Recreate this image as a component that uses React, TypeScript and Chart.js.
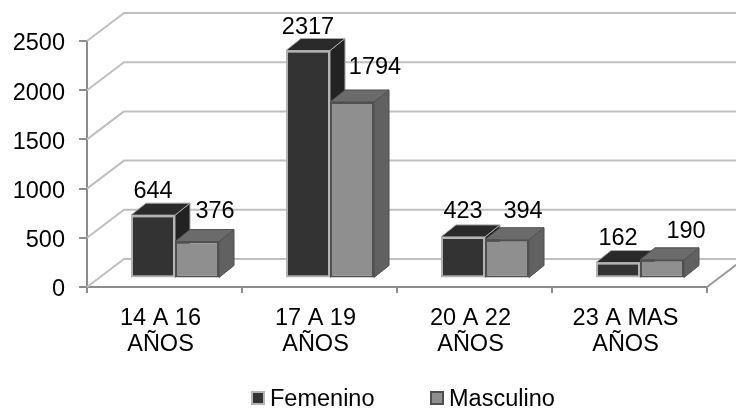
import React, { useEffect, useRef } from "react";
import { Chart, registerables } from "chart.js";

Chart.register(...registerables);

const categories = [["14 A 16", "AÑOS"], ["17 A 19", "AÑOS"], ["20 A 22", "AÑOS"], ["23 A MAS", "AÑOS"]];
const femenino = [644, 2317, 423, 162];
const masculino = [376, 1794, 394, 190];
const yTicks = [0, 500, 1000, 1500, 2000, 2500];

const FONT = '"Liberation Sans", Arial, sans-serif';
const FONT_SIZE = 23.5;

// 3D look, in pixels
const WALL = { dx: 37, dy: 28 };
const BAR_SHIFT = { dx: 10.5, dy: 8.5 };
const BAR_DEPTH = { dx: 15, dy: 12 };

const LOOK = [
  { front: "#333333", top: "#2a2a2a", side: "#222222", edge: "#b4b4b4", faceEdge: "#a8a8a8" },
  { front: "#8f8f8f", top: "#6b6b6b", side: "#616161", edge: "#505050", faceEdge: "#505050" },
];
// data-label placement relative to the top-centre of each front face
const LABEL_OFFSET = [
  [[0, -24], [0, -23], [0, -25], [0, -24]],
  [[18, -30], [23, -34], [16, -28], [24, -28]],
];

function paintDataset(chart: any, index: number) {
  const { ctx } = chart;
  const look = LOOK[index];
  const meta = chart.getDatasetMeta(index);
  ctx.save();
  ctx.translate(BAR_SHIFT.dx, -BAR_SHIFT.dy);
  ctx.lineWidth = 1;
  ctx.lineJoin = "round";
  ctx.strokeStyle = look.faceEdge;
  meta.data.forEach((el: any) => {
    const l = el.x - el.width / 2;
    const r = el.x + el.width / 2;
    const t = el.y;
    const b = el.base;
    ctx.fillStyle = look.side;
    ctx.beginPath();
    ctx.moveTo(r, t);
    ctx.lineTo(r + BAR_DEPTH.dx, t - BAR_DEPTH.dy);
    ctx.lineTo(r + BAR_DEPTH.dx, b - BAR_DEPTH.dy);
    ctx.lineTo(r, b);
    ctx.closePath();
    ctx.fill();
    ctx.stroke();
    ctx.fillStyle = look.top;
    ctx.beginPath();
    ctx.moveTo(l, t);
    ctx.lineTo(l + BAR_DEPTH.dx, t - BAR_DEPTH.dy);
    ctx.lineTo(r + BAR_DEPTH.dx, t - BAR_DEPTH.dy);
    ctx.lineTo(r, t);
    ctx.closePath();
    ctx.fill();
    ctx.stroke();
  });
  meta.controller.draw();
  ctx.restore();
}

const walls3d = {
  id: "walls3d",
  beforeDatasetsDraw(chart: any) {
    const { ctx, scales, width } = chart;
    const y = scales.y;
    const left = scales.x.left;
    const right = scales.x.right;
    ctx.save();
    ctx.strokeStyle = "#bfbfbf";
    ctx.lineWidth = 2;
    ctx.lineJoin = "round";
    yTicks.forEach((v) => {
      const py = y.getPixelForValue(v);
      ctx.beginPath();
      ctx.moveTo(left, py);
      ctx.lineTo(left + WALL.dx, py - WALL.dy);
      ctx.lineTo(width, py - WALL.dy);
      ctx.stroke();
    });
    const p0 = y.getPixelForValue(0);
    ctx.strokeStyle = "#9a9a9a";
    ctx.beginPath();
    ctx.moveTo(right, p0);
    ctx.lineTo(right + WALL.dx, p0 - WALL.dy);
    ctx.stroke();
    ctx.restore();
  },
  // The library draws the last dataset first; the depth effect needs the
  // left-hand series painted first, so painting is taken over here.
  beforeDatasetDraw(chart: any, args: any) {
    if (args.index === 0) {
      paintDataset(chart, 0);
      paintDataset(chart, 1);
    }
    return false;
  },
  afterDatasetsDraw(chart: any) {
    const { ctx, data } = chart;
    ctx.save();
    ctx.font = `${FONT_SIZE}px ${FONT}`;
    ctx.fillStyle = "#000000";
    ctx.textAlign = "center";
    ctx.textBaseline = "middle";
    data.datasets.forEach((ds: any, di: number) => {
      chart.getDatasetMeta(di).data.forEach((el: any, i: number) => {
        const [ox, oy] = LABEL_OFFSET[di][i];
        ctx.fillText(String(ds.data[i]), el.x + BAR_SHIFT.dx + ox, el.y - BAR_SHIFT.dy + oy);
      });
    });
    // legend
    const marks = [251, 430];
    const legendY = 398;
    ctx.textAlign = "left";
    data.datasets.forEach((ds: any, di: number) => {
      const look = LOOK[di];
      ctx.fillStyle = look.front;
      ctx.strokeStyle = look.edge;
      ctx.lineWidth = 2;
      ctx.fillRect(marks[di] + 1, legendY - 6, 12, 12);
      ctx.strokeRect(marks[di] + 1, legendY - 6, 12, 12);
      ctx.fillStyle = "#000000";
      ctx.fillText(ds.label, marks[di] + 19, legendY + 2);
    });
    ctx.restore();
  },
};

export default function App() {
  const ref = useRef<HTMLCanvasElement>(null);
  useEffect(() => {
    const chart = new Chart(ref.current as HTMLCanvasElement, {
      type: "bar",
      data: {
        labels: categories as any,
        datasets: [
          { label: "Femenino", data: femenino, backgroundColor: LOOK[0].front, borderColor: LOOK[0].edge, borderWidth: 2, borderSkipped: false, categoryPercentage: 0.568, barPercentage: 1 },
          { label: "Masculino", data: masculino, backgroundColor: LOOK[1].front, borderColor: LOOK[1].edge, borderWidth: 2, borderSkipped: false, categoryPercentage: 0.568, barPercentage: 1 },
        ],
      },
      options: {
        responsive: false,
        animation: false,
        layout: { padding: { left: 0, right: 29, top: 41, bottom: 0 } },
        plugins: { legend: { display: false }, tooltip: { enabled: false } },
        scales: {
          x: {
            afterFit(s: any) { s.height = 125; },
            grid: { drawOnChartArea: false, tickLength: 6, color: "#8c8c8c", lineWidth: 2 },
            border: { color: "#8c8c8c", width: 2 },
            ticks: {
              maxRotation: 0, autoSkip: false, padding: 13, labelOffset: -4, color: "#000000",
              font: { family: FONT, size: FONT_SIZE, lineHeight: 1.1 },
            },
          },
          y: {
            min: 0, max: 2500,
            afterFit(s: any) { s.width = 87; },
            grid: { drawOnChartArea: false, tickLength: 8, color: "#8c8c8c", lineWidth: 2 },
            border: { color: "#8c8c8c", width: 2 },
            ticks: {
              stepSize: 500, padding: 14, labelOffset: 3, color: "#000000",
              font: { family: FONT, size: FONT_SIZE },
              callback: (v: any) => String(v),
            },
          },
        },
      },
      plugins: [walls3d],
    } as any);
    return () => chart.destroy();
  }, []);
  return (
    <div style={{ position: "absolute", left: 0, top: 0, width: 736, height: 412, background: "#ffffff" }}>
      <canvas ref={ref} width={736} height={412} style={{ display: "block" }} />
    </div>
  );
}
